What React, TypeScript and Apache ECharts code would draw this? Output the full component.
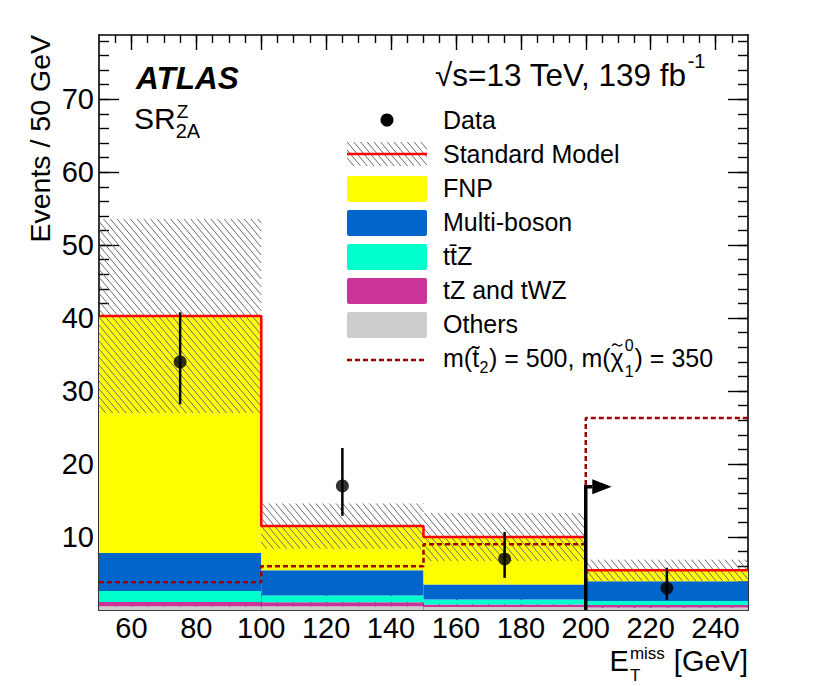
import React, { useEffect, useRef } from "react";
import * as echarts from "echarts";

// ---------- data ----------
const binEdges = [50, 100, 150, 200, 250];
const others = [0.5, 0.5, 0.4, 0.35];
const tzTwz = [0.6, 0.55, 0.35, 0.35];
const ttz = [1.5, 0.95, 0.7, 0.55];
const multiBoson = [5.2, 3.45, 2.05, 2.7];
const fnp = [32.5, 6.05, 6.5, 1.5];
const smUncertainty = [13.3, 3.1, 3.3, 1.45];
const dataCounts = [34, 17, 7, 3];
const dataErrDown = [5.8, 4.1, 2.6, 1.6];
const dataErrUp = [6.8, 5.2, 3.7, 2.8];
const signal = [3.8, 6.0, 9.0, 26.3];
// cut value, arrow height, arrow head start, arrow tip
const cutArrow = [200, 16.9, 202, 208];

const xRange = [50, 250];
const yRange = [0, 78.8];
const xMajorTicks = [60, 80, 100, 120, 140, 160, 180, 200, 220, 240];
const xMinorTicks = [55, 60, 65, 70, 75, 80, 85, 90, 95, 100, 105, 110, 115, 120, 125, 130, 135, 140, 145, 150, 155, 160, 165, 170, 175, 180, 185, 190, 195, 200, 205, 210, 215, 220, 225, 230, 235, 240, 245];
const yMajorTicks = [10, 20, 30, 40, 50, 60, 70];
const yMinorTicks = [2, 4, 6, 8, 10, 12, 14, 16, 18, 20, 22, 24, 26, 28, 30, 32, 34, 36, 38, 40, 42, 44, 46, 48, 50, 52, 54, 56, 58, 60, 62, 64, 66, 68, 70, 72, 74, 76, 78];

const stackComponents = [others, tzTwz, ttz, multiBoson, fnp];
const stackColors = ["#cccccc", "#cc3399", "#00ffcc", "#0066cc", "#ffff00"];
const legendNames = ["Data", "Standard Model", "FNP", "Multi-boson", "tt\u0304Z", "tZ and tWZ", "Others"];

const FONT = "'Liberation Sans', Arial, Helvetica, sans-serif";
const HATCH_COLOR = "#6a6a6a";
const SIGNAL_COLOR = "#a00000";

let measureCtx: CanvasRenderingContext2D | null = null;
function measure(text: string, size: number, weight = "normal", style = "normal") {
  if (!measureCtx) measureCtx = document.createElement("canvas").getContext("2d");
  if (!measureCtx) return text.length * size * 0.55;
  measureCtx.font = `${style} ${weight} ${size}px 'Liberation Sans'`;
  return measureCtx.measureText(text).width;
}

function hatchLines(x0: number, y0: number, x1: number, y1: number, stroke: string) {
  const slope = 1.19;
  const spacing = 6.7;
  const dc = spacing * slope;
  const cMin = y0 - slope * x1;
  const cMax = y1 - slope * x0;
  const out: any[] = [];
  for (let k = Math.ceil(cMin / dc); k * dc <= cMax; k++) {
    const c = k * dc;
    const xa = Math.max(x0, (y0 - c) / slope);
    const xb = Math.min(x1, (y1 - c) / slope);
    if (xb > xa) {
      out.push({
        type: "line",
        shape: { x1: xa, y1: slope * xa + c, x2: xb, y2: slope * xb + c },
        style: { stroke, lineWidth: 1 },
      });
    }
  }
  return out;
}

export default function App() {
  const ref = useRef<HTMLDivElement>(null);

  useEffect(() => {
    if (!ref.current) return;
    const chart = echarts.init(ref.current, undefined, { renderer: "svg" });

    const nb = binEdges.length - 1;
    const stackData: number[][] = [];
    const smTotal: number[] = [];
    for (let i = 0; i < nb; i++) {
      let lo = 0;
      stackComponents.forEach((comp, k) => {
        stackData.push([binEdges[i], binEdges[i + 1], lo, lo + comp[i], k]);
        lo += comp[i];
      });
      smTotal.push(lo);
    }
    const hatchData = smTotal.map((v, i) => [binEdges[i], binEdges[i + 1], v - smUncertainty[i], v + smUncertainty[i]]);
    const smLine: number[][] = [];
    const sigLine: number[][] = [];
    for (let i = 0; i < nb; i++) {
      smLine.push([binEdges[i], smTotal[i]], [binEdges[i + 1], smTotal[i]]);
      sigLine.push([binEdges[i], signal[i]], [binEdges[i + 1], signal[i]]);
    }
    const centers = dataCounts.map((_, i) => (binEdges[i] + binEdges[i + 1]) / 2);
    const points = dataCounts.map((v, i) => [centers[i], v]);
    const errData = dataCounts.map((v, i) => [centers[i], v - dataErrDown[i], v + dataErrUp[i]]);

    const axisBase = (pos: string, ticks: number[], len: number, labels: boolean, line: boolean, isX: boolean) => ({
      type: "value",
      position: pos,
      min: isX ? xRange[0] : yRange[0],
      max: isX ? xRange[1] : yRange[1],
      axisLine: { show: line, onZero: false, lineStyle: { color: "#000", width: 1.6 } },
      axisTick: { show: true, inside: true, length: len, customValues: ticks, lineStyle: { color: "#000", width: 1.4 } },
      axisLabel: labels
        ? { show: true, customValues: ticks, color: "#000", fontFamily: FONT, fontSize: 29, margin: isX ? 3 : 5 }
        : { show: false },
      splitLine: { show: false },
    });

    const txt = (text: string, x: number, y: number, size: number, extra: any = {}) => ({
      type: "text",
      x,
      y,
      style: { text, fontFamily: FONT, fontSize: size, fill: "#000", textAlign: "left", textVerticalAlign: "middle", ...extra },
    });

    // legend graphics
    const lx0 = 347, lx1 = 427, tx = 443;
    const LF = 25;
    const rowY = [120, 154, 188, 222, 256, 290, 324, 358];
    const g: any[] = [];
    g.push({ type: "circle", shape: { cx: 387, cy: rowY[0], r: 6.5 }, style: { fill: "#000" } });
    g.push({ type: "group", children: hatchLines(lx0, rowY[1] - 12, lx1, rowY[1] + 12, HATCH_COLOR) });
    g.push({ type: "line", shape: { x1: lx0, y1: rowY[1], x2: lx1, y2: rowY[1] }, style: { stroke: "#ff0000", lineWidth: 2.5 } });
    const boxColors = [stackColors[4], stackColors[3], stackColors[2], stackColors[1], stackColors[0]];
    boxColors.forEach((c, k) => {
      g.push({ type: "rect", shape: { x: lx0, y: rowY[k + 2] - 12, width: lx1 - lx0, height: 26, r: 2 }, style: { fill: c } });
    });
    g.push({ type: "line", shape: { x1: lx0, y1: rowY[7] + 2, x2: 425, y2: rowY[7] + 2 }, style: { stroke: SIGNAL_COLOR, lineWidth: 2.5, lineDash: [5, 3] } });
    legendNames.forEach((name, k) => {
      g.push(txt(name, tx, rowY[k], LF));
    });
    // signal legend label, laid out piece by piece
    {
      let x = tx;
      const p1 = "m(t\u0303";
      g.push(txt(p1, x, rowY[7], LF));
      x += measure(p1, LF) + 0.5;
      g.push(txt("2", x, rowY[7] + 9, 16));
      x += measure("2", 16) + 0.5;
      const p2 = ") = 500, m(";
      g.push(txt(p2, x, rowY[7], LF));
      x += measure(p2, LF);
      const wChi = measure("\u03c7", LF);
      g.push(txt("\u03c7", x, rowY[7], LF));
      const cx = x + wChi / 2;
      const ty = rowY[7] - 13;
      g.push({
        type: "bezierCurve",
        shape: { x1: cx - 5, y1: ty + 1, cpx1: cx - 1.5, cpy1: ty - 5, cpx2: cx + 1.5, cpy2: ty + 5, x2: cx + 5, y2: ty - 1 },
        style: { stroke: "#000", lineWidth: 1.4, fill: null },
      });
      x += wChi + 1;
      g.push(txt("0", x, rowY[7] - 13, 16));
      g.push(txt("1", x, rowY[7] + 13, 16));
      x += measure("0", 16) + 1;
      g.push(txt(") = 350", x, rowY[7], LF));
    }
    // ATLAS label
    g.push(txt("ATLAS", 136, 78, 31.5, { fontWeight: "bold", fontStyle: "italic" }));
    {
      const x0 = 134;
      g.push(txt("SR", x0, 118, 30));
      const w = measure("SR", 30);
      g.push(txt("Z", x0 + w + 1, 111, 19));
      g.push(txt("2A", x0 + w, 131, 20));
    }
    // energy / lumi
    {
      const hx = 435;
      const ht = "\u221as=13 TeV, 139 fb";
      g.push(txt(ht, hx, 75, 31.5));
      g.push(txt("-1", hx + measure(ht, 31.5) + 1, 61, 20));
    }
    // axis titles
    g.push({
      type: "text",
      x: 40,
      y: 35,
      rotation: Math.PI / 2,
      style: { text: "Events / 50 GeV", fontFamily: FONT, fontSize: 28.5, fill: "#000", textAlign: "right", textVerticalAlign: "middle" },
    });
    {
      const right = 748;
      const wGeV = measure("[GeV]", 29);
      g.push(txt("[GeV]", right, 661, 29, { textAlign: "right" }));
      const missEnd = right - wGeV - 9;
      const wMiss = measure("miss", 17);
      const missX = missEnd - wMiss;
      g.push(txt("miss", missX, 653, 17));
      g.push(txt("T", missX, 675, 17));
      g.push(txt("E", missX - measure("E", 29) - 1, 661, 29));
    }

    const option: any = {
      animation: false,
      textStyle: { fontFamily: FONT },
      grid: { left: 99, right: 82, top: 35, bottom: 76, containLabel: false },
      xAxis: [
        axisBase("bottom", xMajorTicks, 15, true, true, true),
        axisBase("bottom", xMinorTicks, 8, false, false, true),
        axisBase("top", xMajorTicks, 15, false, true, true),
        axisBase("top", xMinorTicks, 8, false, false, true),
      ],
      yAxis: [
        axisBase("left", yMajorTicks, 20, true, true, false),
        axisBase("left", yMinorTicks, 10, false, false, false),
        axisBase("right", yMajorTicks, 20, false, true, false),
        axisBase("right", yMinorTicks, 10, false, false, false),
      ],
      series: [
        {
          type: "custom",
          name: "stack",
          z: 1,
          clip: true,
          encode: { x: [0, 1], y: [2, 3] },
          data: stackData,
          renderItem: (params: any, api: any) => {
            const p0 = api.coord([api.value(0), api.value(3)]);
            const p1 = api.coord([api.value(1), api.value(2)]);
            return {
              type: "rect",
              shape: { x: p0[0], y: p0[1], width: p1[0] - p0[0], height: p1[1] - p0[1] },
              style: { fill: stackColors[api.value(4)] },
            };
          },
        },
        {
          type: "custom",
          name: "SM uncertainty",
          z: 2,
          clip: true,
          encode: { x: [0, 1], y: [2, 3] },
          data: hatchData,
          renderItem: (params: any, api: any) => {
            const p0 = api.coord([api.value(0), api.value(3)]);
            const p1 = api.coord([api.value(1), api.value(2)]);
            return { type: "group", children: hatchLines(p0[0], p0[1], p1[0], p1[1], HATCH_COLOR) };
          },
        },
        {
          type: "line",
          name: "Standard Model",
          z: 3,
          data: smLine,
          symbol: "none",
          lineStyle: { color: "#ff0000", width: 2.5 },
        },
        {
          type: "line",
          name: "signal",
          z: 4,
          data: sigLine,
          symbol: "none",
          lineStyle: { color: SIGNAL_COLOR, width: 2.5, type: [5, 3] },
        },
        {
          type: "custom",
          name: "cut",
          z: 5,
          data: [cutArrow],
          renderItem: (params: any, api: any) => {
            const base = api.coord([api.value(0), yRange[0]]);
            const top = api.coord([api.value(0), api.value(1)]);
            const hs = api.coord([api.value(2), api.value(1)]);
            const tip = api.coord([api.value(3), api.value(1)]);
            return {
              type: "group",
              children: [
                {
                  type: "polyline",
                  shape: { points: [base, top, hs] },
                  style: { stroke: "#000", lineWidth: 3.5, fill: null },
                },
                {
                  type: "polygon",
                  shape: { points: [[hs[0], hs[1] - 7.5], [tip[0], tip[1]], [hs[0], hs[1] + 7.5]] },
                  style: { fill: "#000" },
                },
              ],
            };
          },
        },
        {
          type: "custom",
          name: "errors",
          z: 6,
          encode: { x: 0, y: [1, 2] },
          data: errData,
          renderItem: (params: any, api: any) => {
            const a = api.coord([api.value(0), api.value(1)]);
            const b = api.coord([api.value(0), api.value(2)]);
            return { type: "line", shape: { x1: a[0], y1: a[1], x2: b[0], y2: b[1] }, style: { stroke: "#000", lineWidth: 2.5 } };
          },
        },
        {
          type: "scatter",
          name: "Data",
          z: 7,
          data: points,
          symbol: "circle",
          symbolSize: 13,
          itemStyle: { color: "#000" },
        },
      ],
      graphic: { elements: g },
    };
    chart.setOption(option);
    return () => chart.dispose();
  }, []);

  return <div ref={ref} style={{ position: "absolute", left: 0, top: 0, width: 830, height: 686, background: "#fff" }} />;
}
